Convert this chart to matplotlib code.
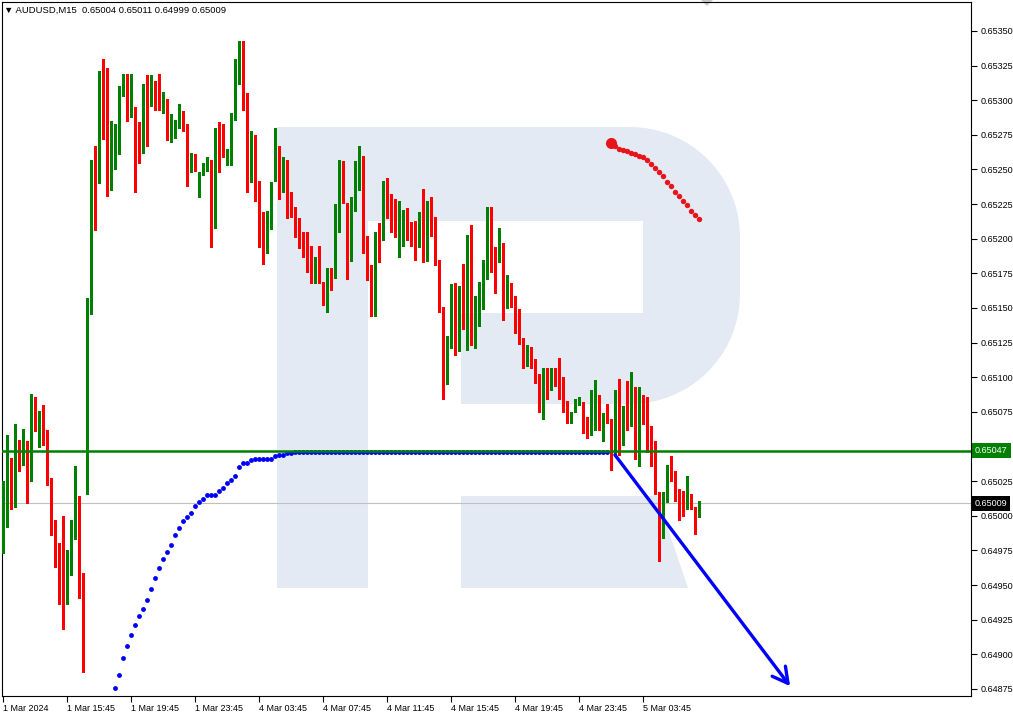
import matplotlib
matplotlib.use("Agg")
import matplotlib.pyplot as plt
import numpy as np
from matplotlib.patches import Polygon, Rectangle
from matplotlib.transforms import blended_transform_factory

plt.rcParams['font.family'] = ['Liberation Sans', 'DejaVu Sans']

# AUDUSD M15 candles, prices in 1e-5 units (points); bar 0 = 1 Mar 11:45
OPEN = [64988, 64999, 65028, 65011, 65052, 65040, 65050, 65026, 65074, 65067,
        65073, 65055, 65023, 64992, 64970, 64954, 64942, 64972, 64984, 65014,
        64959, 65043, 65148, 65250, 65244, 65314, 65306, 65236, 65270, 65271,
        65308, 65312, 65288, 65294, 65273, 65269, 65309, 65296, 65309, 65309,
        65299, 65301, 65279, 65279, 65285, 65292, 65281, 65248, 65255, 65231,
        65248, 65253, 65256, 65208, 65280, 65268, 65258, 65260, 65286, 65319,
        65338, 65302, 65243, 65272, 65229, 65219, 65194, 65220, 65242, 65264,
        65236, 65257, 65224, 65216, 65209, 65198, 65198, 65190, 65173, 65184,
        65169, 65157, 65179, 65177, 65207, 65245, 65226, 65198, 65231, 65246,
        65259, 65190, 65171, 65148, 65202, 65202, 65238, 65221, 65218, 65202,
        65208, 65216, 65206, 65203, 65195, 65218, 65190, 65228, 65212, 65181,
        65151, 65107, 65121, 65162, 65119, 65161, 65141, 65200, 65137, 65137,
        65164, 65178, 65221, 65185, 65184, 65190, 65155, 65159, 65153, 65140,
        65125, 65117, 65120, 65112, 65102, 65076, 65100, 65091, 65102, 65102,
        65100, 65081, 65067, 65075, 65082, 65080, 65067, 65058, 65070, 65080,
        65064, 65072, 65070, 65058, 65089, 65052, 65078, 65072, 65076, 65054,
        65084, 65076, 65065, 65043, 65017, 64998, 65010, 65033, 65032, 65019,
        65009, 65005, 65010, 65006, 65004]
HIGH = [65025, 65058, 65042, 65066, 65055, 65063, 65054, 65088, 65086, 65076,
        65080, 65062, 65027, 64997, 64980, 65000, 64975, 64997, 65036, 65014,
        64959, 65157, 65257, 65267, 65321, 65330, 65323, 65285, 65283, 65310,
        65319, 65319, 65319, 65295, 65284, 65312, 65318, 65318, 65314, 65319,
        65306, 65301, 65290, 65286, 65297, 65292, 65283, 65262, 65261, 65248,
        65255, 65259, 65257, 65280, 65284, 65283, 65265, 65291, 65330, 65343,
        65343, 65305, 65278, 65275, 65242, 65219, 65220, 65241, 65280, 65267,
        65259, 65257, 65234, 65223, 65215, 65205, 65205, 65195, 65187, 65195,
        65169, 65179, 65179, 65225, 65257, 65256, 65226, 65230, 65256, 65267,
        65260, 65202, 65181, 65205, 65211, 65242, 65244, 65232, 65229, 65227,
        65221, 65222, 65212, 65213, 65219, 65236, 65227, 65230, 65216, 65185,
        65151, 65130, 65167, 65168, 65166, 65182, 65203, 65210, 65159, 65169,
        65185, 65223, 65223, 65194, 65208, 65197, 65174, 65168, 65159, 65149,
        65128, 65123, 65122, 65113, 65102, 65107, 65107, 65107, 65107, 65114,
        65100, 65083, 65075, 65084, 65086, 65082, 65071, 65091, 65098, 65087,
        65074, 65081, 65070, 65091, 65099, 65079, 65097, 65104, 65093, 65093,
        65087, 65086, 65065, 65054, 65017, 65017, 65037, 65043, 65032, 65019,
        65018, 65029, 65016, 65006, 65011]
LOW = [64973, 64992, 65005, 65006, 65032, 65037, 65009, 65025, 65061, 65050,
       65051, 65022, 64986, 64963, 64936, 64918, 64936, 64957, 64983, 64941,
       64887, 65016, 65146, 65206, 65240, 65272, 65231, 65235, 65250, 65261,
       65303, 65285, 65288, 65234, 65255, 65262, 65267, 65296, 65293, 65293,
       65291, 65271, 65270, 65273, 65280, 65278, 65238, 65248, 65249, 65230,
       65246, 65249, 65194, 65208, 65248, 65259, 65253, 65253, 65286, 65312,
       65293, 65234, 65241, 65227, 65194, 65182, 65190, 65207, 65242, 65229,
       65234, 65215, 65216, 65201, 65193, 65187, 65176, 65168, 65168, 65168,
       65152, 65147, 65163, 65172, 65205, 65226, 65171, 65184, 65220, 65235,
       65190, 65170, 65144, 65144, 65183, 65199, 65215, 65205, 65201, 65187,
       65195, 65199, 65195, 65185, 65194, 65183, 65184, 65202, 65181, 65147,
       65084, 65095, 65121, 65116, 65119, 65135, 65120, 65123, 65121, 65137,
       65149, 65171, 65176, 65161, 65183, 65141, 65150, 65151, 65132, 65124,
       65107, 65108, 65107, 65096, 65075, 65070, 65084, 65091, 65094, 65084,
       65075, 65067, 65067, 65075, 65080, 65060, 65056, 65058, 65062, 65062,
       65054, 65067, 65033, 65044, 65044, 65051, 65062, 65065, 65041, 65036,
       65066, 65046, 65036, 65016, 64967, 64984, 65010, 65025, 65011, 64997,
       65000, 65005, 65005, 64987, 64999]
CLOSE = [65001, 65027, 65010, 65050, 65040, 65050, 65024, 65075, 65068, 65071,
         65054, 65023, 64990, 64973, 64954, 64943, 64972, 64986, 65014, 64969,
         64909, 65149, 65249, 65243, 65315, 65306, 65238, 65270, 65272, 65309,
         65312, 65287, 65294, 65273, 65267, 65309, 65296, 65310, 65308, 65299,
         65303, 65278, 65281, 65285, 65292, 65280, 65247, 65260, 65251, 65248,
         65254, 65256, 65208, 65280, 65266, 65259, 65260, 65288, 65320, 65339,
         65299, 65243, 65271, 65227, 65220, 65194, 65220, 65241, 65263, 65235,
         65257, 65225, 65217, 65207, 65198, 65196, 65188, 65174, 65184, 65168,
         65158, 65179, 65177, 65205, 65245, 65228, 65198, 65230, 65246, 65257,
         65190, 65171, 65150, 65203, 65200, 65239, 65222, 65216, 65202, 65211,
         65216, 65204, 65202, 65195, 65217, 65190, 65227, 65210, 65181, 65150,
         65106, 65123, 65160, 65119, 65162, 65140, 65202, 65137, 65138, 65164,
         65177, 65221, 65187, 65183, 65189, 65156, 65157, 65153, 65140, 65124,
         65119, 65121, 65111, 65102, 65077, 65098, 65090, 65102, 65101, 65101,
         65081, 65067, 65073, 65083, 65084, 65065, 65058, 65072, 65079, 65064,
         65071, 65070, 65059, 65089, 65052, 65079, 65071, 65076, 65052, 65086,
         65077, 65064, 65040, 65016, 64997, 65010, 65029, 65030, 65018, 65010,
         65005, 65011, 65005, 65002, 65009]

# blue dotted indicator, starts at bar 28
BLUE_START = 28
BLUE = [64876, 64885, 64897, 64906, 64914, 64921, 64928, 64933, 64939, 64947,
        64955, 64962, 64969, 64974, 64979, 64986, 64991, 64996, 64999, 65002,
        65007, 65010, 65012, 65015, 65015, 65015, 65018, 65020, 65024, 65026,
        65029, 65035, 65038, 65038, 65040, 65041, 65041, 65041, 65041, 65041,
        65043, 65044, 65044, 65045, 65045, 65046, 65046, 65046, 65046, 65046,
        65046, 65046, 65046, 65046, 65046, 65046, 65046, 65046, 65046, 65046,
        65046, 65046, 65046, 65046, 65046, 65046, 65046, 65046, 65046, 65046,
        65046, 65046, 65046, 65046, 65046, 65046, 65046, 65046, 65046, 65046,
        65046, 65046, 65046, 65046, 65046, 65046, 65046, 65046, 65046, 65046,
        65046, 65046, 65046, 65046, 65046, 65046, 65046, 65046, 65046, 65046,
        65046, 65046, 65046, 65046, 65046, 65046, 65046, 65046, 65046, 65046,
        65046, 65046, 65046, 65046, 65046, 65046, 65046, 65046, 65046, 65046,
        65046, 65046, 65046, 65046]

# red dotted indicator, starts at bar 152
RED_START = 152
RED = [65269, 65267, 65265, 65264, 65263, 65262, 65261, 65260, 65259, 65257,
       65254, 65251, 65248, 65245, 65241, 65238, 65234, 65231, 65227, 65224,
       65220, 65217, 65214]

# forecast arrow (bar index, price)
ARROW_X = [152.9, 196.7]
ARROW_Y = [65044, 64877]

LEVEL = 0.65047
LAST = 0.65009

XTICK_POS = [0, 16, 32, 48, 64, 80, 96, 112, 128, 144, 160]
XTICK_LABELS = ["1 Mar 2024", "1 Mar 15:45", "1 Mar 19:45", "1 Mar 23:45",
                "4 Mar 03:45", "4 Mar 07:45", "4 Mar 11:45", "4 Mar 15:45",
                "4 Mar 19:45", "4 Mar 23:45", "5 Mar 03:45"]
YTICKS = [64875, 64900, 64925, 64950, 64975, 65000, 65025, 65050, 65075, 65100,
          65125, 65150, 65175, 65200, 65225, 65250, 65275, 65300, 65325, 65350]

W, H = 1013, 718
fig = plt.figure(figsize=(W / 100, H / 100), dpi=100)

# background "R" watermark in pixel coordinates
bg = fig.add_axes([0, 0, 1, 1], zorder=0)
bg.set_xlim(0, W); bg.set_ylim(H, 0); bg.axis("off")
wm = "#e4eaf3"


def _arc(cx, cy, r, a0, a1, n=24):
    t = np.radians(np.linspace(a0, a1, n))
    return list(zip(cx + r * np.cos(t), cy + r * np.sin(t)))


bowl = ([(368, 127)] + _arc(630, 237, 110, -90, 0) + _arc(630, 294, 110, 0, 90)
        + [(461, 404), (461, 313), (643, 313), (643, 221), (368, 221)])
bg.add_patch(Polygon(bowl, closed=True, fc=wm, ec="none"))
bg.add_patch(Rectangle((277, 127), 91, 461, fc=wm, ec="none"))
bg.add_patch(Polygon([(461, 496), (657, 496), (688, 588), (461, 588)], closed=True, fc=wm, ec="none"))
bg.add_patch(Polygon([(701, 0), (713, 0), (707, 6)], closed=True, fc="#c8c8c8", ec="none"))

ax = fig.add_axes([2 / W, (H - 696) / H, 969 / W, 694 / H], zorder=1)
ax.patch.set_alpha(0)

o = np.array(OPEN) / 1e5
h = np.array(HIGH) / 1e5
l = np.array(LOW) / 1e5
c = np.array(CLOSE) / 1e5
idx = np.arange(len(o))
cols = np.where(c >= o, "#008000", "#ff0000")

ax.axhline(LAST, color="#c0c0c0", lw=0.8, zorder=2)
ax.vlines(idx, l, h, colors=cols, lw=0.8, zorder=3, antialiased=False)
ax.bar(idx, np.maximum(np.abs(c - o), 0.8e-5), bottom=np.minimum(o, c), width=0.75,
       color=cols, lw=0, zorder=4, antialiased=False)

bx = np.arange(BLUE_START, BLUE_START + len(BLUE))
ax.plot(bx, np.array(BLUE) / 1e5, "o", color="#0000ff", ms=3.5, mew=0, zorder=5)
rx = np.arange(RED_START, RED_START + len(RED))
ry = np.array(RED) / 1e5
ax.plot(rx[1:], ry[1:], "o", color="#e8141c", ms=3.9, mew=0, zorder=5)
ax.plot(rx[:1], ry[:1], "o", color="#e8141c", ms=8, mew=0, zorder=5)

ax.axhline(LEVEL, color="#008000", lw=1.8, zorder=6)

ax.annotate("", xy=(ARROW_X[1], ARROW_Y[1] / 1e5), xytext=(ARROW_X[0], ARROW_Y[0] / 1e5),
            arrowprops=dict(arrowstyle="->,head_length=0.55,head_width=0.3", color="#0000ff",
                            lw=2.4, mutation_scale=20, shrinkA=0, shrinkB=0), zorder=7)

ax.set_xlim(-0.325, 241.925)
ax.set_ylim(0.648699, 0.653709)

ax.set_xticks(XTICK_POS, XTICK_LABELS)
for lbl in ax.get_xticklabels():
    lbl.set_ha("left")
ax.tick_params(axis="x", direction="out", length=4, width=0.8, pad=1.5, labelsize=6.5)

# the 0.65050 label sits under the level box, as on the terminal
ylabels = ["" if v == 65050 else f"{v / 1e5:.5f}" for v in YTICKS]
ax.set_yticks(np.array(YTICKS) / 1e5, ylabels)
ax.tick_params(axis="y", left=False, labelleft=False, right=True, labelright=True,
               direction="out", length=4, width=0.8, pad=3, labelsize=6.5)
for s in ax.spines.values():
    s.set_color("black"); s.set_linewidth(0.8)

tr = blended_transform_factory(ax.transAxes, ax.transData)
ax.text(1.004, LEVEL, f"{LEVEL:.5f}", transform=tr, ha="left", va="center", color="white",
        fontsize=6.5, zorder=10, clip_on=False,
        bbox=dict(boxstyle="square,pad=0.35", fc="#008000", ec="none"))
ax.text(1.004, LAST, f"{LAST:.5f}", transform=tr, ha="left", va="center", color="white",
        fontsize=6.5, zorder=10, clip_on=False,
        bbox=dict(boxstyle="square,pad=0.3", fc="black", ec="none"))

fig.text(4 / W, 1 - 10 / H, "▼ AUDUSD,M15  0.65004 0.65011 0.64999 0.65009",
         fontsize=6.8, va="center", ha="left")

fig.savefig("out.png", dpi=100)
